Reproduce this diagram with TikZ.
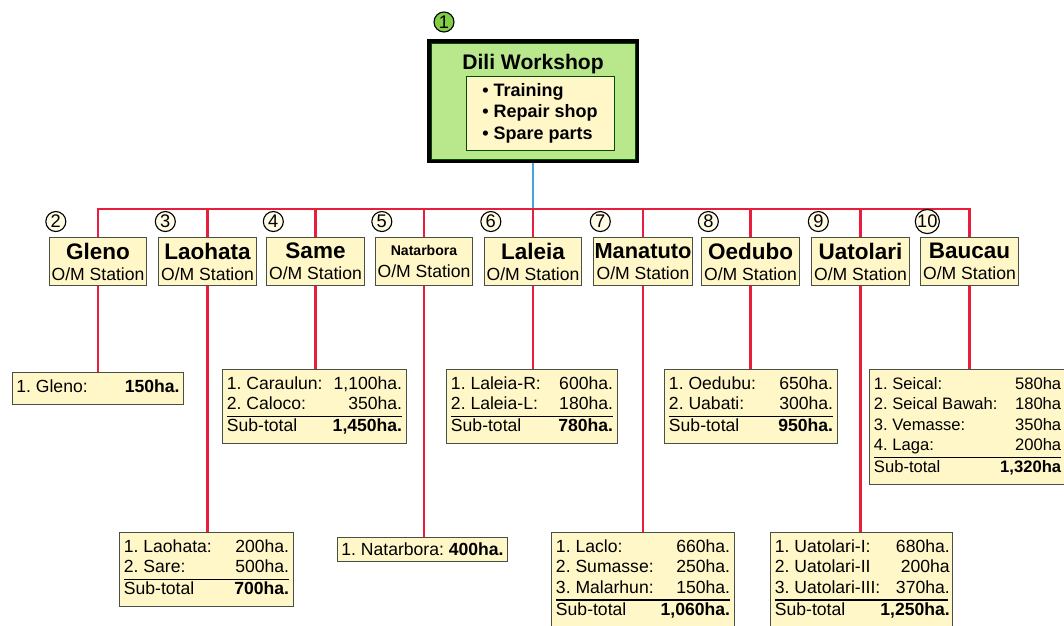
\documentclass[tikz,border=0pt]{standalone}
\usepackage{fontspec}
\setmainfont{Liberation Sans}
\usetikzlibrary{calc,backgrounds}
\setlength{\arrayrulewidth}{1pt}
\frenchspacing

\definecolor{omcream}{RGB}{255,247,200}
\definecolor{omline}{RGB}{70,80,70}
\definecolor{omred}{RGB}{232,30,60}
\definecolor{omblue}{RGB}{70,165,220}
\definecolor{diligreen}{RGB}{185,232,140}
\definecolor{numgreen}{RGB}{130,205,70}

\tikzset{
	station/.style={draw=omline, line width=0.8pt, fill=omcream, minimum width=2.43cm, minimum height=1.22cm, inner sep=0.5pt, align=center, font=\fontsize{12.5}{15}\selectfont},
	numcirc/.style={circle, draw=black, line width=0.8pt, fill=omcream!50!white, minimum size=0.5cm, inner sep=0pt, font=\fontsize{13}{13}\selectfont},
	area/.style={draw=omline, line width=0.8pt, fill=omcream, inner xsep=3pt, inner ysep=4pt, anchor=north, font=\fontsize{12.5}{14.5}\selectfont},
	redline/.style={draw=omred, line width=1.5pt},
}

\newcommand{\stname}[1]{{\fontsize{16}{15}\selectfont\bfseries #1}}
\newcommand{\areatab}[2]{\begin{tabular*}{#1}{@{}l@{\extracolsep{\fill}}r@{}}#2\end{tabular*}}
\newcommand{\omstation}[4]{
	\node[station] (#1) at (#2,261.5) {#4\\O/M Station};
	\node[numcirc] (#1n) at ($(#1.north west)+(7,-15)$) {#3};
}

\begin{document}
\begin{tikzpicture}[x=0.025cm, y=-0.025cm]
\useasboundingbox (0,0) rectangle (1064,625);
\clip (0,0) rectangle (1064,625);

\pgfmathsetmacro{\omAx}{98}
\pgfmathsetmacro{\omBx}{207.5}
\pgfmathsetmacro{\omCx}{315.5}
\pgfmathsetmacro{\omDx}{424}
\pgfmathsetmacro{\omEx}{533}
\pgfmathsetmacro{\omFx}{643}
\pgfmathsetmacro{\omGx}{750.5}
\pgfmathsetmacro{\omHx}{860.5}
\pgfmathsetmacro{\omIx}{969.5}
\pgfmathsetmacro{\omHi}{369}
\pgfmathsetmacro{\omLo}{532}

\node[draw=black, line width=2.8pt, fill=diligreen, minimum width=5.2cm, minimum height=3.0cm] (dili) at (533,101) {};
\draw[green!30!black, line width=0.6pt] ($(dili.north west)+(4,4)$) rectangle ($(dili.south east)+(-4,-4)$);
\node[font=\fontsize{15}{15}\selectfont\bfseries] (dilititle) at (533,64) {Dili Workshop};
\node[draw=green!30!black, line width=0.6pt, fill=omcream, minimum width=3.7cm, minimum height=1.85cm, align=left, font=\fontsize{12.8}{15.2}\selectfont\bfseries] (diliitems) at (540,113) {• Training\\• Repair shop\\• Spare parts};
\node[numcirc, fill=numgreen] (dilin) at (444,22) {1};
\coordinate (bus) at (\omEx,209);

\omstation{s2}{\omAx}{2}{\stname{Gleno}}
\omstation{s3}{\omBx}{3}{\stname{Laohata}}
\omstation{s4}{\omCx}{4}{\stname{Same}}
\omstation{s5}{\omDx}{5}{{\fontsize{10}{15}\selectfont\bfseries Natarbora}}
\omstation{s6}{\omEx}{6}{\stname{Laleia}}
\omstation{s7}{\omFx}{7}{{\fontsize{15.5}{15}\selectfont\bfseries Manatuto}}
\omstation{s8}{\omGx}{8}{\stname{Oedubo}}
\omstation{s9}{\omHx}{9}{\stname{Uatolari}}
\omstation{s10}{\omIx}{10}{\stname{Baucau}}

\node[area] (a2) at (\omAx,\omHi+3) {\areatab{4.08cm}{1. Gleno: & \textbf{150ha.}}};
\node[area] (a3) at (\omBx-1,\omLo) {\areatab{4.13cm}{1. Laohata: & 200ha.\\ 2. Sare: & 500ha.\\ \hline Sub-total & \textbf{700ha.}}};
\node[area] (a4) at (\omCx-1,\omHi) {\areatab{4.38cm}{1. Caraulun: & 1,100ha.\\ 2. Caloco: & 350ha.\\ \hline Sub-total & \textbf{1,450ha.}}};
\node[area] (a5) at (\omDx-1.5,\omLo+5) {1. Natarbora: \textbf{400ha.}};
\node[area] (a6) at (\omEx-1,\omHi) {\areatab{4.05cm}{1. Laleia-R: & 600ha.\\ 2. Laleia-L: & 180ha.\\ \hline Sub-total & \textbf{780ha.}}};
\node[area] (a7) at (\omFx,\omLo) {\areatab{4.35cm}{1. Laclo: & 660ha.\\ 2. Sumasse: & 250ha.\\ 3. Malarhun: & 150ha.\\ \hline Sub-total & \textbf{1,060ha.}}};
\node[area] (a8) at (\omGx+0.5,\omHi) {\areatab{4.1cm}{1. Oedubu: & 650ha.\\ 2. Uabati: & 300ha.\\ \hline Sub-total & \textbf{950ha.}}};
\node[area] (a9) at (\omHx+1,\omLo) {\areatab{4.33cm}{1. Uatolari-I: & 680ha.\\ 2. Uatolari-II & 200ha\\ 3. Uatolari-III: & 370ha.\\ \hline Sub-total & \textbf{1,250ha.}}};
\node[area, anchor=north east, font=\fontsize{11.8}{14.5}\selectfont] (a10) at (1066,\omHi) {\areatab{4.68cm}{1. Seical: & 580ha\\ 2. Seical Bawah: & 180ha\\ 3. Vemasse: & 350ha\\ 4. Laga: & 200ha\\ \hline Sub-total & \textbf{1,320ha}}};

\begin{scope}[on background layer]
\draw[omblue, line width=1.5pt] (dili.south) -- (bus);
\draw[redline] (s2 |- a2.north) -- (s2 |- bus) -- (s10 |- bus) -- (s10 |- a10.north);
\foreach \k in {3,...,9}
	\draw[redline] (s\k |- bus) -- (s\k |- a\k.north);
\end{scope}
\end{tikzpicture}
\end{document}
